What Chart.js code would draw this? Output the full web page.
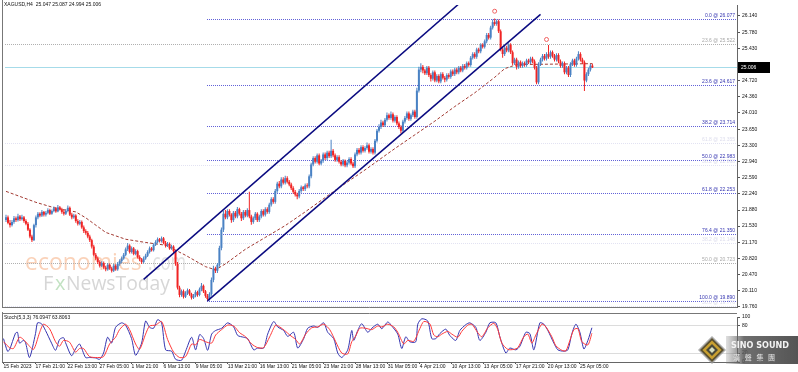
<!DOCTYPE html>
<html>
<head>
<meta charset="utf-8">
<script src="https://cdn.jsdelivr.net/npm/chart.js@4.4.0/dist/chart.umd.min.js"></script>
<style>
html,body{margin:0;padding:0;background:#fff;}
#wrap{position:relative;width:798px;height:372px;overflow:hidden;background:#fff;}
#main{position:absolute;left:0;top:0;}
#stoch{position:absolute;left:0;top:312px;}
</style>
</head>
<body>
<div id="wrap">
<canvas id="main" width="798" height="312"></canvas>
<canvas id="stoch" width="798" height="60"></canvas>
</div>
<script>
// XAGUSD H4, 15 Feb - 25 Apr 2023
const xLabels = ['15 Feb 2023','17 Feb 21:00','22 Feb 13:00','27 Feb 05:00','1 Mar 21:00','6 Mar 13:00','9 Mar 05:00','13 Mar 21:00','16 Mar 13:00','21 Mar 05:00','23 Mar 21:00','28 Mar 13:00','31 Mar 05:00','4 Apr 21:00','10 Apr 13:00','13 Apr 05:00','17 Apr 21:00','20 Apr 13:00','25 Apr 05:00'];
const yTicks = [26.14,25.78,25.43,25.07,24.72,24.36,24.01,23.65,23.30,22.94,22.59,22.24,21.88,21.53,21.17,20.82,20.47,20.11,19.76];
const stochTicks = [100, 80, 20, 0];

const firstOpen = 21.66;
const closes = [
21.72,21.60,21.55,21.62,21.70,21.66,21.74,21.68,21.72,21.64,
21.58,21.45,21.30,21.22,21.55,21.72,21.80,21.76,21.84,21.78,
21.82,21.88,21.80,21.86,21.92,21.85,21.94,21.90,21.84,21.80,
21.86,21.93,21.78,21.72,21.76,21.64,21.58,21.62,21.50,21.42,
21.38,21.30,21.22,21.08,20.90,20.82,20.74,20.66,20.72,20.62,
20.58,20.68,20.60,20.55,20.66,20.58,20.70,20.76,20.82,20.90,
21.02,21.10,20.96,21.04,20.92,20.98,20.85,20.80,20.74,20.82,
20.88,20.96,21.04,21.00,21.12,21.18,21.24,21.20,21.26,21.16,
21.10,21.14,21.04,21.08,20.98,20.70,20.18,20.02,20.10,19.98,
20.06,20.12,20.04,19.96,20.00,20.08,20.02,20.14,20.22,20.10,
20.00,19.93,20.04,20.35,20.60,20.55,20.68,21.05,21.45,21.80,
21.72,21.86,21.78,21.66,21.82,21.74,21.90,21.80,21.70,21.84,
21.76,21.88,21.74,21.62,21.70,21.80,21.66,21.74,21.86,21.78,
21.90,21.84,22.00,22.12,22.06,22.30,22.46,22.40,22.55,22.48,
22.58,22.50,22.44,22.36,22.28,22.22,22.18,22.30,22.38,22.34,
22.42,22.40,22.62,22.88,23.02,22.94,23.08,22.90,22.96,23.10,
23.02,23.14,23.06,23.18,23.08,22.98,23.04,22.94,22.88,22.96,
22.86,22.92,23.00,22.90,22.84,23.10,23.20,23.14,23.26,23.18,
23.24,23.30,23.16,23.22,23.14,23.40,23.62,23.70,23.80,23.74,
23.86,23.96,23.90,23.98,23.84,23.92,23.78,23.70,23.62,23.82,
23.90,24.00,23.88,23.96,24.04,23.92,24.50,24.96,25.02,24.94,
24.88,25.00,24.84,24.76,24.90,24.72,24.82,24.70,24.86,24.78,
24.74,24.84,24.80,24.92,24.86,24.96,24.90,25.00,24.94,25.04,
25.00,25.10,25.06,25.22,25.30,25.24,25.40,25.36,25.50,25.46,
25.58,25.72,25.66,25.88,26.00,25.96,26.02,25.80,25.40,25.30,
25.44,25.38,25.50,25.34,25.10,25.18,25.02,25.12,25.04,25.10,
25.06,25.16,25.12,25.20,25.14,25.00,24.68,25.08,25.18,25.26,
25.20,25.30,25.24,25.34,25.26,25.18,25.28,25.14,25.04,25.10,
24.90,25.00,24.84,25.08,25.16,25.06,25.20,25.30,25.18,25.12,
24.72,24.86,24.96,25.047,25.006];
const highs = [
21.78,21.76,21.66,21.66,21.75,21.74,21.80,21.77,21.78,21.75,
21.68,21.62,21.48,21.34,21.58,21.76,21.84,21.83,21.88,21.86,
21.86,21.92,21.91,21.89,21.96,21.95,21.99,21.97,21.93,21.88,
21.90,21.98,21.96,21.82,21.80,21.79,21.68,21.66,21.65,21.54,
21.46,21.42,21.34,21.25,21.12,20.94,20.86,20.78,20.76,20.75,
20.66,20.72,20.71,20.64,20.70,20.69,20.74,20.80,20.86,20.94,
21.06,21.16,21.13,21.08,21.07,21.02,21.01,20.89,20.83,20.86,
20.92,21.00,21.08,21.07,21.15,21.22,21.28,21.27,21.30,21.29,
21.20,21.18,21.17,21.12,21.11,21.01,20.74,20.22,20.14,20.14,
20.10,20.16,20.15,20.07,20.04,20.12,20.11,20.18,20.28,20.25,
20.13,20.04,20.08,20.40,20.66,20.64,20.72,21.10,21.50,21.86,
21.88,21.90,21.90,21.81,21.86,21.86,21.95,21.93,21.84,21.88,
21.88,21.92,22.28,21.78,21.74,21.84,21.83,21.78,21.90,21.90,
21.94,21.94,22.04,22.16,22.16,22.34,22.50,22.52,22.60,22.60,
22.63,22.62,22.54,22.48,22.40,22.32,22.26,22.34,22.42,22.41,
22.46,22.47,22.66,22.92,23.06,23.06,23.12,23.12,23.00,23.14,
23.14,23.18,23.18,23.42,23.22,23.12,23.08,23.08,22.98,23.00,
22.99,22.96,23.04,23.04,22.94,23.14,23.24,23.24,23.30,23.30,
23.28,23.36,23.34,23.26,23.26,23.44,23.66,23.76,23.86,23.84,
23.90,24.02,24.00,24.04,24.02,23.96,23.96,23.82,23.74,23.86,
23.94,24.04,24.04,24.00,24.08,24.08,24.56,25.02,25.10,25.06,
24.98,25.04,25.04,24.88,24.94,24.94,24.86,24.86,24.90,24.90,
24.82,24.88,24.88,24.96,24.96,25.00,25.00,25.04,25.04,25.08,
25.08,25.14,25.14,25.26,25.34,25.34,25.44,25.44,25.54,25.54,
25.62,25.76,25.76,25.92,26.06,26.08,26.06,26.06,25.84,25.46,
25.48,25.48,25.54,25.54,25.38,25.22,25.22,25.16,25.16,25.14,
25.14,25.20,25.20,25.24,25.24,25.18,25.04,25.12,25.22,25.30,
25.30,25.34,25.50,25.38,25.38,25.30,25.32,25.32,25.18,25.14,
25.14,25.04,25.04,25.12,25.20,25.20,25.24,25.36,25.34,25.22,
25.16,24.90,25.00,25.08,25.087];
const lows = [
21.62,21.57,21.50,21.52,21.58,21.62,21.63,21.64,21.65,21.60,
21.55,21.42,21.26,21.18,21.20,21.50,21.68,21.72,21.73,21.74,
21.74,21.79,21.77,21.78,21.83,21.82,21.83,21.87,21.80,21.76,
21.77,21.83,21.75,21.68,21.69,21.60,21.54,21.55,21.47,21.38,
21.34,21.26,21.18,21.04,20.86,20.78,20.70,20.62,20.63,20.58,
20.54,20.55,20.57,20.51,20.52,20.55,20.55,20.66,20.72,20.79,
20.87,20.98,20.93,20.93,20.89,20.89,20.82,20.76,20.70,20.71,
20.79,20.85,20.93,20.97,20.97,21.09,21.15,21.17,21.17,21.13,
21.06,21.07,21.01,21.01,20.94,20.66,20.14,19.97,19.98,19.94,
19.95,20.02,20.00,19.92,19.93,19.97,19.98,19.99,20.10,20.06,
19.96,19.89,19.90,20.00,20.30,20.50,20.50,20.64,21.00,21.40,
21.68,21.68,21.74,21.60,21.62,21.70,21.70,21.76,21.64,21.66,
21.72,21.72,21.70,21.56,21.58,21.66,21.62,21.62,21.70,21.74,
21.74,21.80,21.80,21.96,22.02,22.02,22.26,22.36,22.36,22.44,
22.44,22.46,22.40,22.32,22.24,22.18,22.12,22.14,22.26,22.30,
22.30,22.36,22.36,22.58,22.84,22.90,22.90,22.86,22.86,22.92,
22.98,22.98,23.02,23.02,23.04,22.94,22.94,22.90,22.84,22.84,
22.82,22.82,22.88,22.86,22.80,22.80,23.06,23.10,23.10,23.14,
23.14,23.20,23.12,23.12,23.10,23.10,23.36,23.58,23.66,23.70,
23.70,23.82,23.86,23.86,23.80,23.80,23.74,23.66,23.56,23.58,
23.78,23.86,23.84,23.84,23.92,23.88,23.88,24.46,24.90,24.88,
24.84,24.84,24.80,24.70,24.72,24.68,24.68,24.66,24.66,24.74,
24.68,24.70,24.76,24.76,24.82,24.82,24.86,24.86,24.90,24.90,
24.96,24.96,25.02,25.02,25.18,25.20,25.20,25.32,25.32,25.42,
25.42,25.54,25.62,25.62,25.84,25.92,25.92,25.76,25.36,25.22,
25.26,25.34,25.34,25.30,25.06,25.06,24.96,24.98,25.00,25.00,
25.02,25.02,25.08,25.08,25.10,24.96,24.64,24.64,25.04,25.14,
25.16,25.16,25.20,25.20,25.22,25.14,25.14,25.10,25.00,25.00,
24.86,24.86,24.80,24.80,25.04,25.02,25.02,25.16,25.14,25.08,
24.49,24.68,24.82,24.92,24.994];

// moving average (dashed), read at some bars
const maBars = [0,15,25,35,40,50,60,70,80,90,100,105,110,120,130,140,150,165,180,195,205,215,225,235,245,250,256,294];
const maVals = [22.29,22.05,21.92,21.84,21.71,21.39,21.24,21.17,21.11,20.89,20.64,20.57,20.70,21.02,21.28,21.54,21.84,22.31,22.76,23.23,23.53,23.83,24.15,24.45,24.79,24.98,25.07,25.09];

// channel lines
const upperBars = [69, 232], upperVals = [20.36, 26.59];
const lowerBars = [101, 268], lowerVals = [19.89, 26.17];

// fibonacci levels
const fibStart = 101;
const fibBlueVals = [26.077, 24.617, 23.714, 22.983, 22.253, 21.350, 19.890];
const fibBlueNames = ['0.0','23.6','38.2','50.0','61.8','76.4','100.0'];
const fibGrayVals = [25.522, 20.723];
const fibGrayNames = ['23.6','50.0'];
const fibFaintVals = [23.355, 22.868, 21.148, 19.776];
const fibFaintNames = ['61.8','38.2','38.2','50.0'];
const lastPrice = 25.006;

// fractal marks
const fracBars = [245, 271], fracVals = [26.24, 25.62];

// stochastic %K and %D
const kBars = [0,2,3,6,7,8,10,11,13,16,17,19,21,24,26,28,30,31,34,36,38,41,43,46,48,50,52,54,56,59,61,64,66,69,71,73,75,77,79,81,84,86,89,91,94,96,98,100,102,104,106,109,112,115,117,120,122,125,127,130,132,135,137,140,142,145,147,150,152,155,157,160,162,165,167,169,172,174,175,177,179,182,184,187,189,192,194,197,199,201,203,206,207,209,212,214,216,218,221,223,226,228,231,233,236,238,241,243,246,248,251,253,256,258,261,263,265,268,270,272,275,277,280,282,284,286,288,290,292,294];
const kVals = [52,24,27,64,66,42,48,43,10,63,87,85,70,42,26,50,54,43,14,29,40,10,10,9,6,20,55,42,77,87,82,52,15,42,91,77,75,94,87,27,24,6,4,24,55,27,61,52,26,62,70,75,87,78,59,55,52,27,31,31,62,90,78,70,57,66,31,52,75,80,77,87,66,52,20,10,27,70,48,70,85,66,75,84,74,89,80,62,30,56,45,45,84,96,91,52,52,63,73,59,48,70,83,87,77,48,66,87,87,56,20,31,27,35,66,63,27,87,84,70,42,27,24,27,63,84,66,29,48,76.09];
const dBars = [0,3,5,8,10,12,15,18,20,23,26,28,30,33,36,38,40,43,47,50,53,56,58,61,63,66,68,71,73,76,79,82,85,88,91,94,96,98,101,104,106,109,112,115,118,121,124,127,130,133,136,138,141,143,146,148,151,154,157,160,163,166,169,172,174,176,178,181,184,187,189,192,195,197,200,202,205,208,210,213,215,217,219,222,224,227,229,232,234,237,239,242,245,247,249,252,255,257,260,262,264,266,269,271,274,276,279,281,283,285,287,289,292,294];
const dVals = [45,32,30,55,50,40,28,65,84,74,45,35,48,44,22,30,30,12,10,12,40,55,72,84,72,40,28,62,80,82,90,50,22,10,12,40,38,50,45,42,60,72,82,80,65,56,40,32,32,56,82,78,68,60,50,40,62,76,78,84,72,45,20,18,45,58,75,75,72,80,78,84,78,66,40,48,46,74,90,85,60,56,62,68,62,55,68,82,84,65,56,76,86,72,42,28,28,32,56,62,42,60,84,78,56,36,26,25,48,72,74,45,38,63.81];

const N = 367;
const cats = Array.from({length: N}, (_, i) => (i % 16 === 0 && xLabels[i / 16]) ? xLabels[i / 16] : '');
const opens = [firstOpen].concat(closes.slice(0, -1));

function sparse(bars, vals) {
    const a = new Array(N).fill(null);
    bars.forEach((b, j) => { a[b] = vals[j]; });
    return a;
}

const BULL = '#4a82c4', BEAR = '#f02424';
const candleCol = closes.map((c, i) => c >= opens[i] ? BULL : BEAR);

Chart.defaults.font.family = '"Liberation Sans", Arial, sans-serif';
Chart.defaults.font.size = 5;
Chart.defaults.color = '#111';

function lineSet(data, color, width, dash, order) {
    return {type: 'line', data: data, borderColor: color, borderWidth: width, borderDash: dash,
            pointRadius: 0, spanGaps: true, fill: false, order: order};
}

// horizontal levels: positions come from the y scale, snapped to the pixel grid
function hLevel(chart, v, x0, col, dash) {
    const ctx = chart.ctx, a = chart.chartArea;
    const py = Math.round(chart.scales.y.getPixelForValue(v)) + 0.5;
    ctx.strokeStyle = col;
    ctx.setLineDash(dash);
    ctx.beginPath();
    ctx.moveTo(x0, py); ctx.lineTo(a.right, py);
    ctx.stroke();
}

const mainDeco = {
    id: 'mainDeco',
    beforeDatasetsDraw(chart) {
        const ctx = chart.ctx, x = chart.scales.x, a = chart.chartArea;
        ctx.save();
        ctx.textBaseline = 'alphabetic';
        ctx.font = '23px "Open Sans"';
        ctx.fillStyle = 'rgba(246,165,115,0.5)';
        ctx.fillText('economies', 25, 270, 122);
        ctx.fillStyle = 'rgba(200,200,200,0.55)';
        ctx.fillText('.com', 148, 270, 38);
        ctx.font = '20px "Open Sans"';
        ctx.fillStyle = 'rgba(165,165,165,0.45)';
        ctx.fillText('F', 43, 290);
        ctx.fillStyle = 'rgba(120,190,120,0.45)';
        ctx.fillText('x', 55, 290);
        ctx.fillStyle = 'rgba(165,165,165,0.45)';
        ctx.fillText('NewsToday', 66, 290, 104);

        ctx.lineWidth = 1;
        const xs = Math.round(x.getPixelForValue(fibStart));
        fibFaintVals.forEach(v => hLevel(chart, v, a.left, '#e2e2f2', [1, 1]));
        fibGrayVals.forEach(v => hLevel(chart, v, a.left, '#b0b0b0', [1, 1]));
        fibBlueVals.forEach(v => hLevel(chart, v, xs, '#6262d8', [1, 1]));
        hLevel(chart, lastPrice, a.left, '#a6dbe9', []);
        ctx.restore();
    },
    afterDraw(chart) {
        const ctx = chart.ctx, a = chart.chartArea, y = chart.scales.y;
        ctx.save();
        ctx.strokeStyle = '#777';
        ctx.lineWidth = 1;
        ctx.beginPath();
        ctx.moveTo(2.5, 0); ctx.lineTo(2.5, a.bottom + 0.5);
        ctx.moveTo(2, Math.round(a.bottom) + 0.5); ctx.lineTo(a.right, Math.round(a.bottom) + 0.5);
        ctx.stroke();

        ctx.font = '5px "Liberation Sans"';
        ctx.textBaseline = 'middle';
        ctx.fillStyle = '#111';
        ctx.fillText('XAGUSD,H4  25.047 25.087 24.994 25.006', 4, 5);

        ctx.textAlign = 'right';
        ctx.textBaseline = 'bottom';
        const lab = (vals, names, col) => {
            ctx.fillStyle = col;
            vals.forEach((v, i) => ctx.fillText(names[i] + ' @ ' + v.toFixed(3), a.right - 2, Math.round(y.getPixelForValue(v)) - 0.5));
        };
        lab(fibFaintVals, fibFaintNames, '#dcdcec');
        lab(fibGrayVals, fibGrayNames, '#a8a8a8');
        lab(fibBlueVals, fibBlueNames, '#3434b0');

        const py = Math.round(y.getPixelForValue(lastPrice));
        ctx.fillStyle = '#000';
        ctx.fillRect(a.right + 1, py - 5, 32, 11);
        ctx.fillStyle = '#fff';
        ctx.textAlign = 'left';
        ctx.textBaseline = 'middle';
        ctx.fillText(lastPrice.toFixed(3), a.right + 4, py + 0.5);
        ctx.restore();
    }
};

new Chart(document.getElementById('main'), {
    type: 'bar',
    data: {
        labels: cats,
        datasets: [
            lineSet(sparse(maBars, maVals), '#a23a32', 1, [3, 2], 6),
            {type: 'bar', data: lows.map((l, i) => [l, highs[i]]), backgroundColor: candleCol,
             barThickness: 1, grouped: false, inflateAmount: 0, order: 4},
            {type: 'bar', data: opens.map((o, i) => [o, closes[i]]), backgroundColor: candleCol,
             barThickness: 2, minBarLength: 1, grouped: false, inflateAmount: 0, order: 3},
            lineSet(sparse(upperBars, upperVals), '#0a0a80', 1.5, [], 1),
            lineSet(sparse(lowerBars, lowerVals), '#0a0a80', 1.5, [], 1),
            {type: 'line', data: sparse(fracBars, fracVals), showLine: false, pointRadius: 2,
             pointBorderWidth: 1, pointBorderColor: '#f06060', pointBackgroundColor: 'rgba(0,0,0,0)', order: 0}
        ]
    },
    options: {
        responsive: false,
        animation: false,
        events: [],
        layout: {padding: {left: 2.5, top: 2, right: 0, bottom: 1}},
        plugins: {legend: {display: false}, tooltip: {enabled: false}},
        scales: {
            x: {display: false, offset: true},
            y: {
                position: 'right', min: 19.755, max: 26.376,
                afterBuildTicks: s => { s.ticks = yTicks.map(v => ({value: v})); },
                afterFit: s => { s.width = 61; },
                ticks: {padding: 2, color: '#111', callback: v => Number(v).toFixed(3)},
                grid: {drawOnChartArea: false, tickLength: 3, color: '#555'},
                border: {color: '#666'}
            }
        }
    },
    plugins: [mainDeco]
});

const stochDeco = {
    id: 'stochDeco',
    afterDraw(chart) {
        const ctx = chart.ctx, a = chart.chartArea;
        ctx.save();
        ctx.strokeStyle = '#777';
        ctx.lineWidth = 1;
        ctx.beginPath();
        ctx.moveTo(2.5, 0); ctx.lineTo(2.5, a.bottom);
        ctx.moveTo(2, 1.5); ctx.lineTo(a.right, 1.5);
        ctx.stroke();
        ctx.font = '5px "Liberation Sans"';
        ctx.fillStyle = '#111';
        ctx.textBaseline = 'middle';
        ctx.fillText('Stoch(5,3,3) 76.0947 63.8063', 4, 6);

        // logo
        const g = ctx.createLinearGradient(726, 0, 798, 0);
        g.addColorStop(0, 'rgba(130,130,130,0.25)');
        g.addColorStop(0.25, 'rgba(85,85,85,0.85)');
        g.addColorStop(1, 'rgba(70,70,70,0.92)');
        ctx.fillStyle = g;
        ctx.fillRect(726, 24, 72, 28);
        const dia = (cx, cy, r, col) => {
            ctx.beginPath();
            ctx.moveTo(cx, cy - r); ctx.lineTo(cx + r, cy); ctx.lineTo(cx, cy + r); ctx.lineTo(cx - r, cy);
            ctx.closePath();
            ctx.fillStyle = col; ctx.fill();
        };
        dia(712, 38, 14, 'rgba(150,150,150,0.8)');
        dia(712, 38, 12, '#5a5030');
        dia(712, 38, 9.5, '#c9a030');
        dia(712, 38, 6, '#4a4a3a');
        dia(712, 38, 3, '#d8e0c0');
        ctx.textBaseline = 'alphabetic';
        ctx.font = 'bold 9px "DejaVu Sans"';
        ctx.fillStyle = '#f4f4f4';
        ctx.fillText('SINO SOUND', 731, 36, 58);
        ctx.font = '7px "Noto Sans CJK TC"';
        ctx.fillStyle = '#e8e8e8';
        ctx.fillText('漢   聲   集   團', 733, 48, 56);
        ctx.restore();
    }
};

new Chart(document.getElementById('stoch'), {
    type: 'line',
    data: {
        labels: cats,
        datasets: [
            {data: sparse(dBars, dVals), borderColor: '#ff3a3a', borderWidth: 1, pointRadius: 0, spanGaps: true, tension: 0.25, order: 1},
            {data: sparse(kBars, kVals), borderColor: '#3535b0', borderWidth: 1, pointRadius: 0, spanGaps: true, tension: 0.25, order: 2}
        ]
    },
    options: {
        responsive: false,
        animation: false,
        events: [],
        layout: {padding: {left: 2.5, top: 2, right: 0, bottom: 0}},
        plugins: {legend: {display: false}, tooltip: {enabled: false}},
        scales: {
            x: {
                offset: true,
                afterFit: s => { s.height = 10; },
                ticks: {autoSkip: false, maxRotation: 0, align: 'start', padding: 0, color: '#111'},
                grid: {drawOnChartArea: false, tickLength: 2, color: c => (c.tick && c.tick.label) ? '#555' : 'rgba(0,0,0,0)'},
                border: {color: '#666'}
            },
            y: {
                position: 'right', min: 0, max: 100,
                afterBuildTicks: s => { s.ticks = stochTicks.map(v => ({value: v})); },
                afterFit: s => { s.width = 61; },
                ticks: {padding: 2, color: '#111'},
                grid: {color: c => (c.tick && (c.tick.value === 80 || c.tick.value === 20)) ? '#b8b8b8' : 'rgba(0,0,0,0)',
                       tickColor: '#555', tickLength: 3},
                border: {color: '#666', dash: [1, 1]}
            }
        }
    },
    plugins: [stochDeco]
});
</script>
</body>
</html>
